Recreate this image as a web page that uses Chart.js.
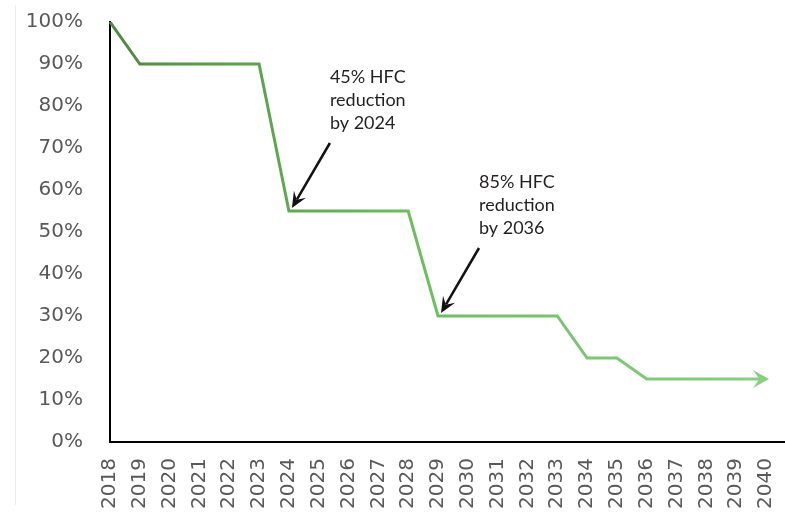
<!DOCTYPE html>
<html>
<head>
<meta charset="utf-8">
<script src="https://cdn.jsdelivr.net/npm/chart.js@4.4.1/dist/chart.umd.min.js"></script>
<style>
  html, body { margin: 0; padding: 0; background: #fff; }
  #wrap { width: 785px; height: 512px; }
</style>
</head>
<body>
<div id="wrap"><canvas id="hfcChart" width="785" height="512"></canvas></div>
<script>
const years = ['2018', '2019', '2020', '2021', '2022', '2023', '2024', '2025', '2026', '2027', '2028',
    '2029', '2030', '2031', '2032', '2033', '2034', '2035', '2036', '2037', '2038', '2039', '2040'];
const allowance = [100, 90, 90, 90, 90, 90, 55, 55, 55, 55, 55,
    30, 30, 30, 30, 30, 20, 20, 15, 15, 15, 15, 15];
const yTicks = [0, 10, 20, 30, 40, 50, 60, 70, 80, 90, 100];
const notes = [
    { year: '2024', value: 55, lines: ['45% HFC', 'reduction', 'by 2024'] },
    { year: '2029', value: 30, lines: ['85% HFC', 'reduction', 'by 2036'] }
];

function lineGradient(context) {
    const chart = context.chart;
    const area = chart.chartArea;
    if (!area) return '#6aae5c';
    const g = chart.ctx.createLinearGradient(area.left, 0, area.right, 0);
    g.addColorStop(0, '#4f893b');
    g.addColorStop(0.45, '#6bbd5e');
    g.addColorStop(1, '#86d07f');
    return g;
}

function drawArrowHead(c, x, y, angle, len, half, color) {
    c.save();
    c.translate(x, y);
    c.rotate(angle);
    c.fillStyle = color;
    c.beginPath();
    c.moveTo(0, 0);
    c.lineTo(-len, -half);
    c.lineTo(-len * 0.6, 0);
    c.lineTo(-len, half);
    c.closePath();
    c.fill();
    c.restore();
}

const extras = {
    id: 'extras',
    beforeDraw(chart) {
        const c = chart.ctx;
        c.save();
        c.strokeStyle = '#ececec';
        c.lineWidth = 1;
        c.beginPath();
        c.moveTo(15.5, 5);
        c.lineTo(15.5, 505);
        c.stroke();
        c.restore();
    },
    afterDatasetsDraw(chart) {
        const c = chart.ctx;
        const xs = chart.scales.x, ys = chart.scales.y;
        const area = chart.chartArea;

        // x axis runs on to the right edge
        c.save();
        c.strokeStyle = '#000';
        c.lineWidth = 2;
        c.beginPath();
        c.moveTo(area.right - 1, ys.getPixelForValue(0));
        c.lineTo(chart.width, ys.getPixelForValue(0));
        c.stroke();
        c.restore();

        // arrow at the end of the line
        const last = allowance.length - 1;
        const ex = xs.getPixelForValue(last), ey = ys.getPixelForValue(allowance[last]);
        drawArrowHead(c, ex + 3, ey, 0, 16, 9, '#86d07f');

        // notes with black arrows
        notes.forEach(n => {
            const px = xs.getPixelForValue(years.indexOf(n.year));
            const py = ys.getPixelForValue(n.value);
            const tx = px + 3, ty = py - 3;
            const sx = px + 41, sy = py - 68;
            const ang = Math.atan2(ty - sy, tx - sx);
            c.save();
            c.strokeStyle = '#111';
            c.lineWidth = 2.5;
            c.beginPath();
            c.moveTo(sx, sy);
            c.lineTo(tx - Math.cos(ang) * 10, ty - Math.sin(ang) * 10);
            c.stroke();
            c.restore();
            drawArrowHead(c, tx, ty, ang, 16, 7, '#111');

            c.save();
            c.fillStyle = '#231f20';
            c.font = '18px Lato';
            c.textAlign = 'left';
            c.textBaseline = 'alphabetic';
            n.lines.forEach((t, i) => c.fillText(t, px + 41, py - 128 + i * 23));
            c.restore();
        });
    }
};

new Chart(document.getElementById('hfcChart'), {
    type: 'line',
    data: {
        labels: years,
        datasets: [{
            data: allowance,
            borderColor: lineGradient,
            borderWidth: 3,
            pointRadius: 0,
            tension: 0,
            fill: false
        }]
    },
    plugins: [extras],
    options: {
        responsive: false,
        animation: false,
        layout: { padding: { top: 22, right: 19, left: 0, bottom: 0 } },
        plugins: { legend: { display: false }, tooltip: { enabled: false } },
        scales: {
            x: {
                offset: false,
                grid: { display: false, drawTicks: false },
                border: { display: true, color: '#000', width: 2 },
                ticks: {
                    color: '#595959',
                    font: { family: 'DejaVu Sans', size: 20 },
                    minRotation: 90,
                    maxRotation: 90,
                    autoSkip: false,
                    padding: 16
                },
                afterFit(scale) {
                    scale.height = 70;
                    scale.paddingLeft = 0;
                    scale.paddingRight = 0;
                }
            },
            y: {
                min: 0,
                max: 100,
                afterBuildTicks(scale) { scale.ticks = yTicks.map(v => ({ value: v })); },
                grid: { display: false, drawTicks: false },
                border: { display: true, color: '#000', width: 2 },
                ticks: {
                    color: '#595959',
                    font: { family: 'DejaVu Sans', size: 20 },
                    padding: 27,
                    callback: v => v + '%'
                },
                afterFit(scale) {
                    scale.width = 110;
                    scale.paddingTop = 0;
                    scale.paddingBottom = 0;
                }
            }
        }
    }
});
</script>
</body>
</html>
